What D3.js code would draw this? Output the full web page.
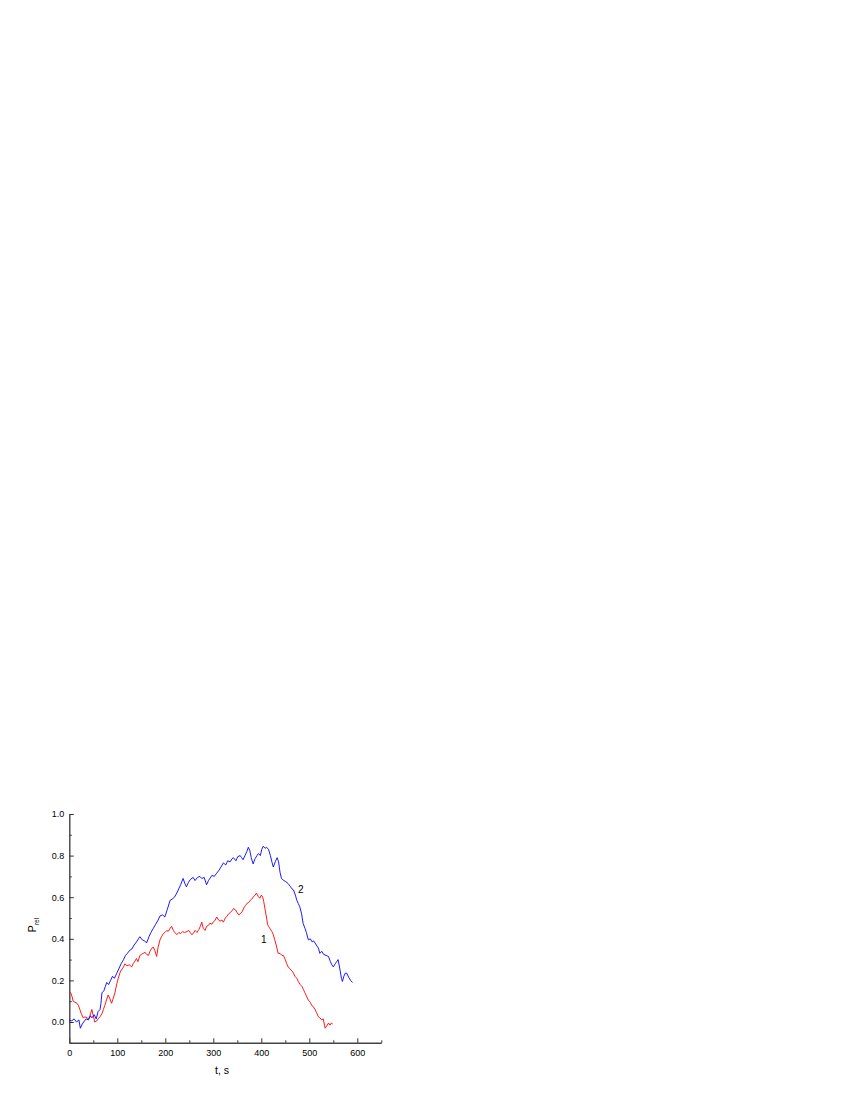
<!DOCTYPE html>
<html>
<head>
<meta charset="utf-8">
<script src="https://cdn.jsdelivr.net/npm/d3@7"></script>
<style>
body{margin:0;background:#fff;}
svg text{font-family:Arial,"Liberation Sans",sans-serif;}
</style>
</head>
<body>
<div id="chart"></div>
<script>
var width=850, height=1100;

// curve 1 (red)
var t1=[0,3,6,8,12,16,19,22,25,29,33,37,40,43,47,50,53,57,60,64,68,71,74,78,81,84,88,91,95,99,102,106,110,113,116,120,125,130,133,136,140,143,147,150,154,158,161,165,168,172,175,178,182,185,189,192,196,199,203,206,210,213,217,220,224,228,232,236,240,245,249,252,255,258,262,266,270,273,276,279,283,286,290,293,297,300,304,307,311,314,318,321,325,329,332,335,339,342,346,350,353,356,360,364,367,370,374,377,380,383,387,390,393,397,400,403,405,408,411,413,415,418,422,425,428,431,435,439,443,446,450,453,456,460,464,467,470,474,477,481,485,488,491,495,498,502,505,508,512,515,519,522,526,529,533,536,540,543,546,549];
var p1=[0.145,0.14,0.12,0.10,0.095,0.09,0.08,0.06,0.04,0.02,0.025,0.02,0.015,0.03,0.06,0.03,0.0,0.005,0.015,0.025,0.04,0.06,0.08,0.11,0.13,0.115,0.09,0.11,0.14,0.185,0.21,0.24,0.255,0.265,0.28,0.27,0.275,0.265,0.28,0.29,0.305,0.29,0.32,0.325,0.33,0.335,0.325,0.32,0.34,0.355,0.36,0.345,0.315,0.36,0.395,0.41,0.425,0.43,0.44,0.435,0.45,0.46,0.44,0.43,0.42,0.43,0.425,0.435,0.43,0.435,0.44,0.43,0.42,0.425,0.44,0.43,0.445,0.46,0.48,0.45,0.44,0.46,0.465,0.475,0.47,0.48,0.49,0.505,0.49,0.485,0.49,0.48,0.50,0.51,0.52,0.525,0.535,0.545,0.54,0.525,0.515,0.52,0.53,0.55,0.56,0.57,0.575,0.585,0.59,0.60,0.61,0.62,0.605,0.595,0.61,0.60,0.58,0.54,0.50,0.47,0.46,0.45,0.435,0.42,0.395,0.37,0.33,0.33,0.32,0.32,0.30,0.28,0.265,0.255,0.245,0.235,0.22,0.21,0.195,0.18,0.17,0.155,0.14,0.12,0.105,0.095,0.08,0.075,0.06,0.045,0.025,0.02,0.01,0.015,-0.03,-0.02,-0.005,-0.015,-0.005,-0.01];

// curve 2 (blue)
var t2=[0,5,10,15,20,23,27,30,35,40,44,47,52,56,60,64,66,68,72,75,78,82,86,90,94,99,103,108,113,117,121,126,130,135,140,144,147,152,157,161,166,170,175,180,185,189,194,199,204,210,214,219,224,228,232,237,241,244,248,252,258,262,267,272,276,281,286,290,293,297,302,307,312,316,321,326,330,335,339,342,347,351,356,359,362,366,370,373,376,379,383,387,391,394,398,401,404,408,411,415,419,422,425,429,433,436,439,442,447,451,456,461,464,467,471,474,477,480,484,487,491,494,498,502,506,509,512,516,519,522,526,530,535,540,544,547,550,554,557,560,564,567,569,572,575,578,582,586,590];
var p2=[0.01,0.005,0.015,0.0,0.01,-0.03,-0.01,0.0,0.015,0.01,0.03,0.02,0.035,0.015,0.05,0.06,0.09,0.14,0.15,0.17,0.19,0.18,0.2,0.22,0.21,0.235,0.255,0.28,0.30,0.32,0.33,0.345,0.35,0.37,0.385,0.4,0.41,0.395,0.39,0.38,0.41,0.43,0.45,0.47,0.49,0.51,0.515,0.505,0.54,0.585,0.59,0.60,0.62,0.64,0.66,0.69,0.665,0.65,0.67,0.685,0.695,0.68,0.695,0.70,0.69,0.695,0.66,0.68,0.69,0.705,0.70,0.715,0.73,0.745,0.765,0.755,0.775,0.77,0.785,0.79,0.775,0.795,0.80,0.79,0.78,0.80,0.82,0.84,0.825,0.79,0.76,0.785,0.80,0.81,0.80,0.83,0.845,0.835,0.84,0.83,0.80,0.77,0.745,0.77,0.79,0.77,0.72,0.69,0.68,0.675,0.665,0.65,0.64,0.635,0.61,0.585,0.57,0.555,0.52,0.475,0.45,0.43,0.395,0.40,0.385,0.39,0.38,0.365,0.355,0.33,0.34,0.325,0.32,0.315,0.29,0.275,0.265,0.28,0.29,0.30,0.25,0.21,0.195,0.22,0.235,0.235,0.215,0.2,0.19];

var xMajor=[0,100,200,300,400,500,600];
var xMinor=[50,150,250,350,450,550,650];
var yMajor=[0.0,0.2,0.4,0.6,0.8,1.0];
var yMinor=[-0.1,0.1,0.3,0.5,0.7,0.9];

var svg=d3.select('#chart').append('svg')
        .attr('width', width)
        .attr('height', height);

var x=d3.scaleLinear().domain([0,650]).range([69.3,381.3]);
var y=d3.scaleLinear().domain([-0.1,1.0]).range([1042.8,814]);

// minor ticks first, then major axes on top
svg.append('g')
    .attr('transform','translate(0,'+y(-0.1)+')')
    .call(d3.axisBottom(x).tickValues(xMinor).tickSizeInner(-2.5).tickSizeOuter(0).tickFormat(''))
    .call(g=>g.select('.domain').remove());
svg.append('g')
    .attr('transform','translate('+x(0)+',0)')
    .call(d3.axisLeft(y).tickValues(yMinor).tickSizeInner(-2.5).tickSizeOuter(0).tickFormat(''))
    .call(g=>g.select('.domain').remove());

var xa=svg.append('g')
    .attr('transform','translate(0,'+y(-0.1)+')')
    .call(d3.axisBottom(x).tickValues(xMajor).tickSizeInner(-4.5).tickSizeOuter(0).tickPadding(7).tickFormat(d3.format('d')));
var ya=svg.append('g')
    .attr('transform','translate('+x(0)+',0)')
    .call(d3.axisLeft(y).tickValues(yMajor).tickSizeInner(-4.5).tickSizeOuter(0).tickPadding(5).tickFormat(d3.format('.1f')));

svg.selectAll('.domain').attr('stroke','#444').attr('stroke-width',1.4);
svg.selectAll('.tick line').attr('stroke','#333').attr('stroke-width',1);
svg.selectAll('.tick text').attr('font-size',9).attr('fill','#000').style('font-family','Arial, "Liberation Sans", sans-serif');

var line=d3.line().x(d=>x(d[0])).y(d=>y(d[1]));

svg.append('path')
    .datum(d3.zip(t1,p1))
    .attr('d',line)
    .attr('fill','none')
    .attr('stroke','#ff0000')
    .attr('stroke-width',0.9);

svg.append('path')
    .datum(d3.zip(t2,p2))
    .attr('d',line)
    .attr('fill','none')
    .attr('stroke','#0000ff')
    .attr('stroke-width',0.9);

// curve labels
svg.append('text').attr('x',x(405)).attr('y',y(0.4)+4).attr('text-anchor','middle').attr('font-size',10).text('1');
svg.append('text').attr('x',x(482)).attr('y',y(0.64)+4).attr('text-anchor','middle').attr('font-size',10).text('2');

// axis titles
svg.append('text').attr('x',222).attr('y',1074).attr('text-anchor','middle').attr('font-size',10.5).text('t, s');

var yt=svg.append('text')
    .attr('transform','translate(36,925) rotate(-90)')
    .attr('text-anchor','middle')
    .attr('font-size',10.5);
yt.append('tspan').text('P');
yt.append('tspan').attr('font-size',6.5).attr('dy',3).text('rel');
</script>
</body>
</html>
